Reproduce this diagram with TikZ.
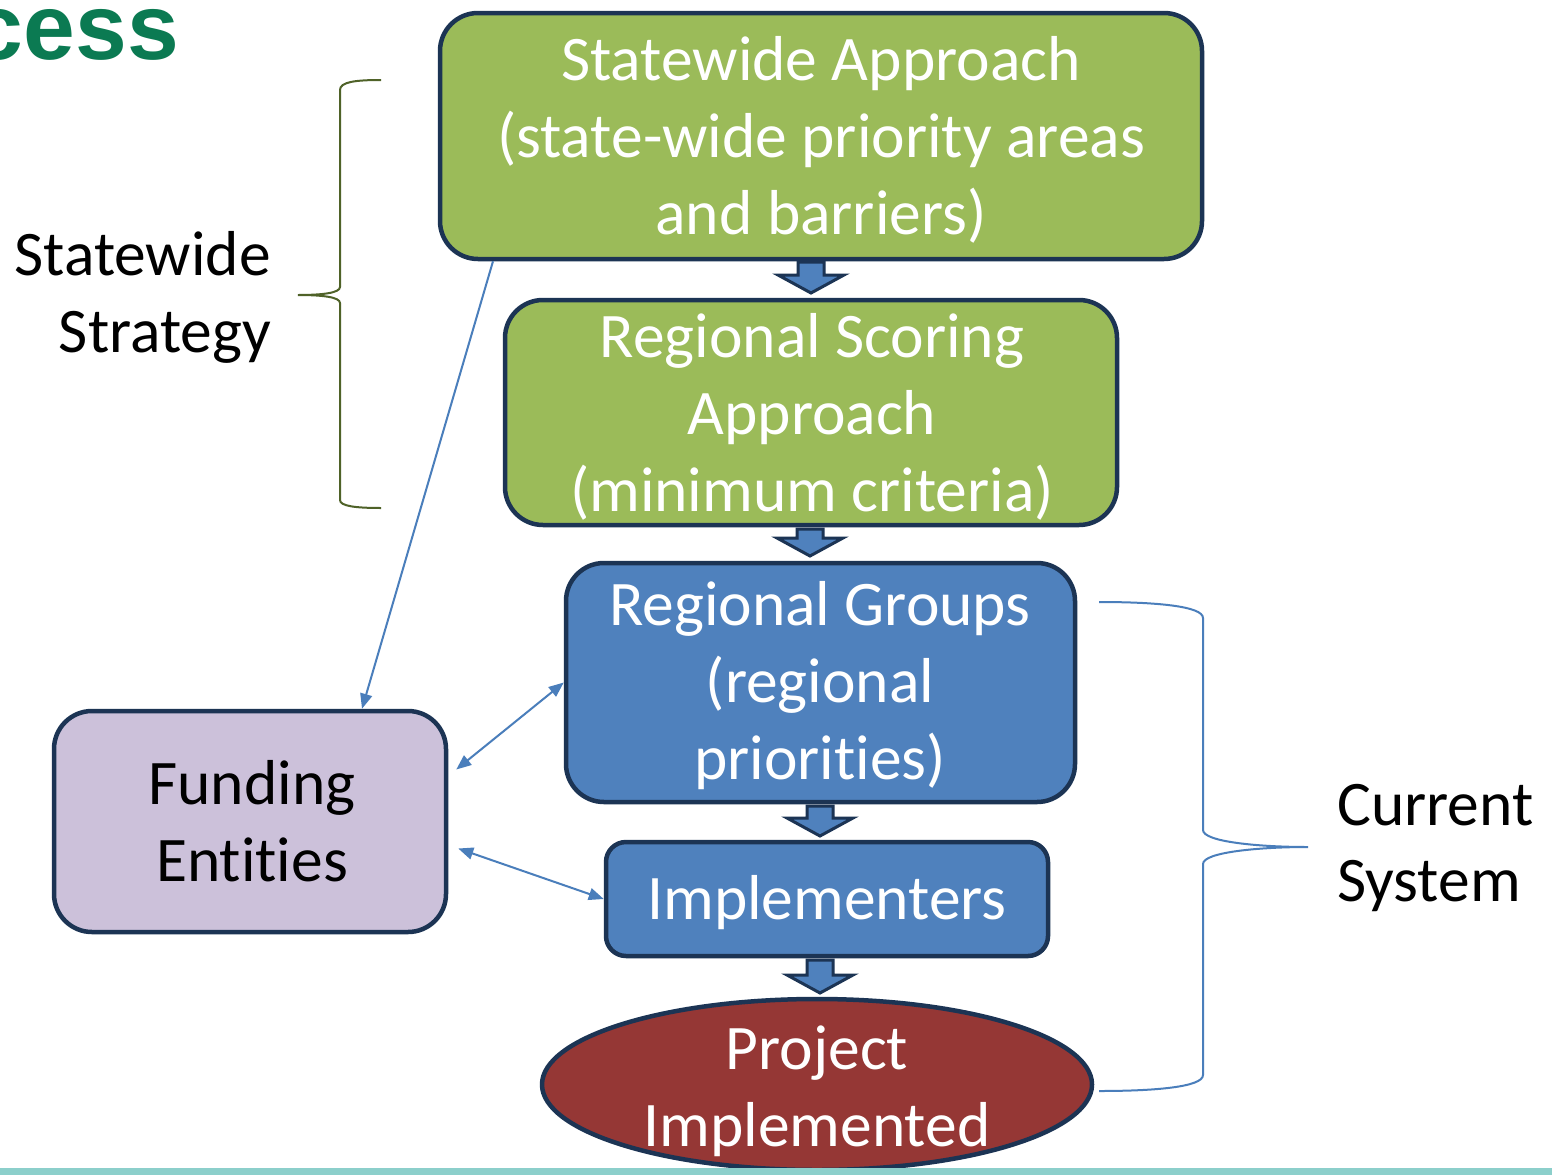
\documentclass[tikz,border=0pt]{standalone}
\usepackage{fontspec}
\setmainfont{Carlito}[Ligatures={TeX,NoCommon}]
\newfontfamily\headfont{Liberation Sans}
\usetikzlibrary{arrows.meta,shapes.geometric,calc}
\definecolor{bordc}{HTML}{1C3454}
\definecolor{greenc}{HTML}{9BBB59}
\definecolor{bluec}{HTML}{4F81BD}
\definecolor{lavc}{HTML}{CCC1DA}
\definecolor{redc}{HTML}{953735}
\definecolor{linec}{HTML}{4A7EBB}
\definecolor{olivec}{HTML}{4F6228}
\definecolor{tealc}{HTML}{8CCFCB}
\definecolor{headc}{HTML}{0B7A52}
\newcommand\blockdown[3]{%
  \filldraw[barrow] (#1-13,#2) -- (#1+13,#2) -- (#1+13,#3-18) -- (#1+33,#3-18) -- (#1,#3) -- (#1-33,#3-18) -- (#1-13,#3-18) -- cycle;}
\begin{document}
\begin{tikzpicture}[x=1pt,y=-1pt,
  box/.style={draw=bordc,line width=4.5pt,rounded corners=38pt,inner sep=0pt},
  wtxt/.style={text=white,align=center,font=\fontsize{63.5}{77}\selectfont,inner sep=0pt},
  btxt/.style={text=black,font=\fontsize{63.5}{77}\selectfont,inner sep=0pt},
  conn/.style={draw=linec,line width=2pt},
  tip/.style={-{Triangle[length=15pt,width=12pt]}},
  dtip/.style={{Triangle[length=15pt,width=12pt]}-{Triangle[length=15pt,width=12pt]}},
  barrow/.style={fill=bluec,draw=bordc,line width=3pt,line join=miter},
  brace/.style={line width=2pt}]
\useasboundingbox (0,0) rectangle (1552,1175);
\fill[white] (0,0) rectangle (1552,1175);
% title fragment (cut by the left edge, as in the reference)
\node[anchor=base east,text=headc,inner sep=0pt,font=\headfont\bfseries\fontsize{93}{93}\selectfont] (title) at (179,59) {Process};
% boxes
\node[box,fill=greenc,minimum width=762pt,minimum height=246pt] (sw) at (821,136) {};
\node[box,fill=greenc,minimum width=612pt,minimum height=225pt] (rs) at (811,412.5) {};
\node[box,fill=bluec,minimum width=509pt,minimum height=239pt] (rg) at (820.5,682.5) {};
\node[box,fill=bluec,rounded corners=20pt,minimum width=442pt,minimum height=114pt] (impl) at (827,899) {};
\node[draw=bordc,line width=4.5pt,fill=redc,ellipse,inner sep=0pt,minimum width=550pt,minimum height=171pt] (proj) at (817,1084.5) {};
\node[box,fill=lavc,minimum width=392pt,minimum height=221pt] (fund) at (250,821.5) {};
% texts
\node[wtxt] (swt) at (821,140) {Statewide Approach\\(state-wide priority areas\\and barriers)};
\node[wtxt] (rst) at (812,417) {Regional Scoring\\Approach\\(minimum criteria)};
\node[wtxt] (rgt) at (820,686) {Regional Groups\\(regional\\priorities)};
\node[wtxt] (implt) at (827,903) {Implementers};
\node[wtxt] (projt) at (817,1091) {Project\\Implemented};
\node[btxt,align=center] (fundt) at (252,821) {Funding\\Entities};
\node[btxt,align=right,anchor=east] (sst) at (271,297) {Statewide\\Strategy};
\node[btxt,align=left,anchor=west] (cst) at (1337,848) {Current\\System};
% block arrows
\blockdown{811}{262}{293}
\blockdown{810}{529}{556}
\blockdown{820}{806}{836}
\blockdown{820}{960}{993}
% connectors
\draw[conn,tip] ([xshift=-328pt]sw.south) -- ([xshift=112pt]fund.north);
\draw[conn,dtip] (rg.west) -- ([xshift=8pt,yshift=52pt]fund.east);
\draw[conn,dtip] (impl.west) -- ([xshift=10pt,yshift=-27pt]fund.east);
% braces
\draw[brace,draw=olivec] (381,80) .. controls (355,80) and (340,82) .. (340,90) -- (340,287)
  .. controls (340,293) and (322,295) .. (298,295)
  .. controls (322,295) and (340,297) .. (340,303) -- (340,500)
  .. controls (340,506) and (355,508) .. (381,508);
\draw[brace,draw=linec] (1099,602) .. controls (1155,602) and (1203,606) .. (1203,618) -- (1203,830)
  .. controls (1203,842) and (1260,847) .. (1308,847)
  .. controls (1260,847) and (1203,852) .. (1203,864) -- (1203,1075)
  .. controls (1203,1087) and (1155,1091) .. (1099,1091);
% bottom bar
\fill[tealc] (0,1168) rectangle (1552,1175);
\end{tikzpicture}
\end{document}
